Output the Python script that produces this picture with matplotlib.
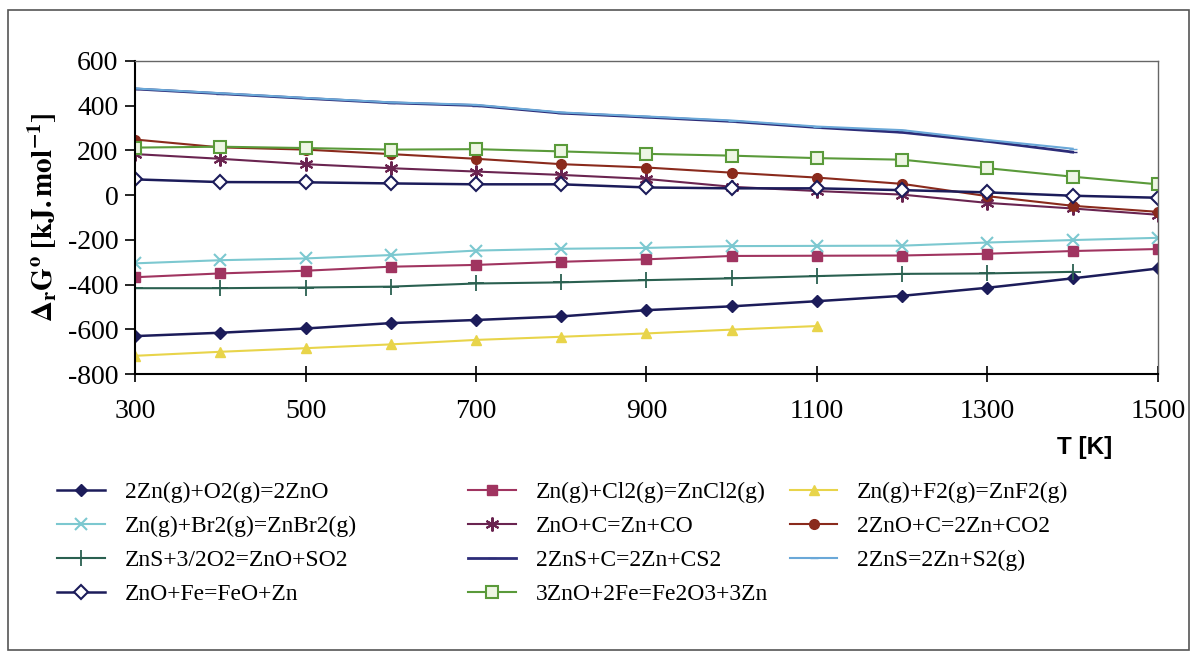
import matplotlib.pyplot as plt
from matplotlib.patches import Rectangle

# Temperaturen in K
T = [300, 400, 500, 600, 700, 800, 900, 1000, 1100, 1200, 1300, 1400, 1500]
T_bis_1100 = T[:9]
T_bis_1400 = T[:12]

# Freie Reaktionsenthalpie in kJ/mol
zno = [-630, -615, -596, -572, -558, -542, -514, -497, -474, -450, -414, -372, -328]
zncl2 = [-367, -350, -338, -320, -312, -298, -287, -272, -271, -270, -262, -250, -241]
znf2 = [-718, -700, -684, -667, -647, -633, -618, -601, -585]
znbr2 = [-305, -291, -283, -268, -248, -240, -236, -228, -227, -226, -212, -201, -191]
zno_c_co = [183, 162, 138, 120, 105, 90, 72, 37, 18, 2, -35, -60, -88]
zno_c_co2 = [248, 213, 203, 183, 162, 138, 123, 100, 78, 50, -5, -48, -75]
zns_o2 = [-416, -416, -413, -409, -395, -390, -380, -372, -362, -352, -350, -343]
zns_cs2 = [474, 453, 432, 412, 400, 366, 348, 329, 302, 280, 240, 192]
zns_s2 = [476, 455, 434, 414, 403, 369, 351, 333, 306, 290, 246, 207]
zno_fe = [70, 58, 57, 52, 48, 48, 34, 30, 30, 22, 12, -3, -12]
zno_fe2o3 = [212, 216, 210, 203, 205, 195, 184, 176, 165, 158, 120, 82, 48]

labels = ["2Zn(g)+O2(g)=2ZnO", "Zn(g)+Cl2(g)=ZnCl2(g)", "Zn(g)+F2(g)=ZnF2(g)",
          "Zn(g)+Br2(g)=ZnBr2(g)", "ZnO+C=Zn+CO", "2ZnO+C=2Zn+CO2",
          "ZnS+3/2O2=ZnO+SO2", "2ZnS+C=2Zn+CS2", "2ZnS=2Zn+S2(g)",
          "ZnO+Fe=FeO+Zn", "3ZnO+2Fe=Fe2O3+3Zn"]

plt.rcParams['font.family'] = ['Liberation Serif', 'DejaVu Serif']
plt.rcParams['mathtext.fontset'] = 'stix'
plt.rcParams['axes.unicode_minus'] = False

fig = plt.figure(figsize=(11.95, 6.53), dpi=100)
ax = fig.add_axes([0.113, 0.427, 0.856, 0.480])

# rahmen um die ganze grafik
fig.patches.append(Rectangle((0.007, 0.005), 0.988, 0.98, transform=fig.transFigure,
                             fill=False, edgecolor="#555555", linewidth=1.2))

ax.plot(T, zno, color="#1c1c5a", marker="D", markersize=6, lw=1.8, label=labels[0])
ax.plot(T, zncl2, color="#a03460", marker="s", markersize=7, lw=1.5, label=labels[1])
ax.plot(T_bis_1100, znf2, color="#e8d44a", marker="^", markersize=7, lw=1.5, label=labels[2])
ax.plot(T, znbr2, color="#7cc8d0", marker="x", markersize=8, mew=1.5, lw=1.5, label=labels[3])
ax.plot(T, zno_c_co, color="#6a2450", marker=(6, 2, 0), markersize=10, mew=1.5, lw=1.5, label=labels[4])
ax.plot(T, zno_c_co2, color="#8a2a1c", marker="o", markersize=7, lw=1.5, label=labels[5])
ax.plot(T_bis_1400, zns_o2, color="#2a6050", marker="+", markersize=12, mew=1.3, lw=1.5, label=labels[6])
ax.plot(T_bis_1400, zns_cs2, color="#2c2c78", marker="_", markersize=6, lw=2, label=labels[7])
ax.plot(T_bis_1400, zns_s2, color="#6aa8d8", marker="_", markersize=6, lw=1.5, label=labels[8])
ax.plot(T, zno_fe, color="#1c1c5a", marker="D", markersize=7, mfc="white", mew=1.5, lw=1.8, label=labels[9])
ax.plot(T, zno_fe2o3, color="#5a9a3a", marker="s", markersize=8, mfc="#eef6e4", mew=1.5, lw=1.5, label=labels[10])

ax.set_xlim(300, 1500)
ax.set_ylim(-800, 600)
ax.set_xticks([300, 500, 700, 900, 1100, 1300, 1500])
ax.set_yticks(range(-800, 601, 200))
ax.tick_params(axis="x", direction="inout", length=12, width=1.2, pad=12, labelsize=20)
ax.tick_params(axis="y", direction="out", length=7, width=1.2, pad=5, labelsize=20)

for s in ["top", "right"]:
    ax.spines[s].set_color("#666666")
    ax.spines[s].set_linewidth(1.0)
ax.spines["left"].set_linewidth(1.5)
ax.spines["bottom"].set_linewidth(1.5)

ax.set_ylabel(r"$\mathbf{\Delta_r G^o\ [kJ.mol^{-1}]}$", fontsize=21, labelpad=6)
fig.text(0.908, 0.315, "T [K]", fontsize=17.5, fontweight="bold", family="Liberation Sans",
         ha="center", va="center")

# legende zeilenweise in drei spalten, jede spalte eine eigene legende
handles, labs = ax.get_legend_handles_labels()
spalten_x = [0.048, 0.392, 0.661]
for i, x0 in enumerate(spalten_x):
    fig.legend(handles[i::3], labs[i::3], loc="upper left", bbox_to_anchor=(x0, 0.263),
               ncol=1, frameon=False, fontsize=17, handlelength=2.0, handletextpad=0.85,
               labelspacing=0.53, borderaxespad=0, borderpad=0)

fig.savefig("out.png", dpi=100)
